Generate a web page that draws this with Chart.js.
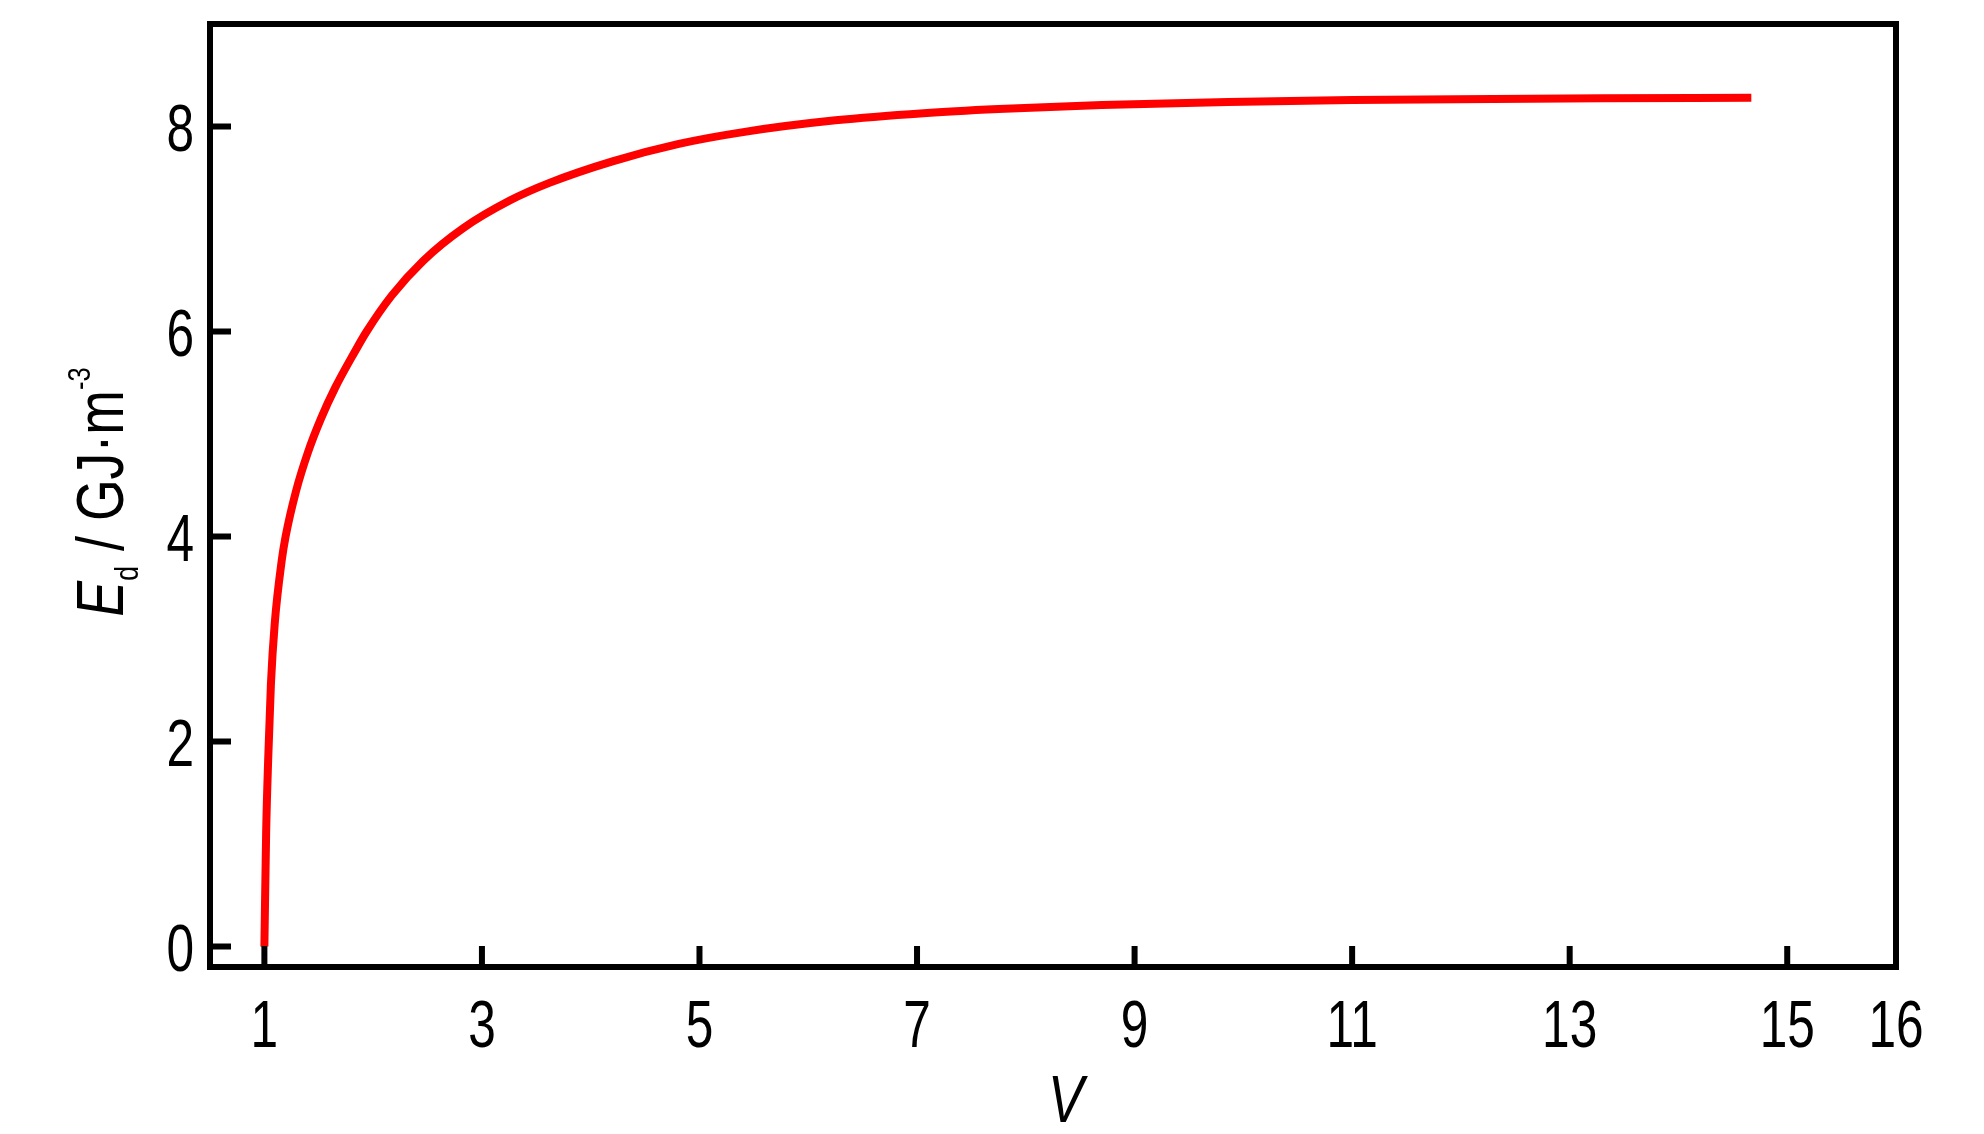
<!DOCTYPE html>
<html>
<head>
<meta charset="utf-8">
<script src="https://cdn.jsdelivr.net/npm/chart.js@4.4.1/dist/chart.umd.min.js"></script>
<style>
  html, body { margin: 0; padding: 0; background: #ffffff; }
  #wrap { width: 1984px; height: 1134px; }
</style>
</head>
<body>
<div id="wrap"><canvas id="c" width="1984" height="1134"></canvas></div>
<script>
// ---- data ----
const volumeRatio = [1.0, 1.016, 1.036, 1.06, 1.095, 1.16, 1.195, 1.29, 1.40, 1.52, 1.65, 1.83, 1.94, 2.17, 2.46, 2.83, 3.26, 3.62, 4.2, 4.81, 5.43, 6.25, 7.06, 7.75, 8.7, 9.86, 11.0, 11.96, 13.3, 14.67];
const energyDensity = [0.0, 1.1, 1.86, 2.56, 3.15, 3.77, 4.0, 4.44, 4.82, 5.15, 5.45, 5.80, 6.0, 6.35, 6.69, 7.01, 7.28, 7.45, 7.66, 7.83, 7.95, 8.06, 8.13, 8.17, 8.21, 8.24, 8.258, 8.267, 8.275, 8.28];
const xTickValues = [1, 3, 5, 7, 9, 11, 13, 15, 16];
const xTickMarks = [1, 3, 5, 7, 9, 11, 13, 15];
const yTickValues = [0, 2, 4, 6, 8];
const xTitle = 'V';
const yTitleParts = [
  { text: 'E', style: 'italic', size: 67, dy: 0 },
  { text: 'd', style: 'normal', size: 34, dy: 15 },
  { text: ' / GJ\u00B7m', style: 'normal', size: 67, dy: 0 },
  { text: '-3', style: 'normal', size: 32, dy: -33 }
];

const FONT = '"Liberation Sans", Arial, Helvetica, sans-serif';
const NARROW = 0.74;      // horizontal squeeze to mimic a narrow face
const TITLE_NARROW = 0.8;

const points = volumeRatio.map((v, i) => ({ x: v, y: energyDensity[i] }));

function narrowText(ctx, text, x, y, align, sx) {
  ctx.save();
  ctx.translate(x, y);
  ctx.scale(sx, 1);
  ctx.textAlign = align;
  ctx.fillText(text, 0, 0);
  ctx.restore();
}

const framePlugin = {
  id: 'frameTicks',
  afterDraw(chart) {
    const { ctx, chartArea: a, scales } = chart;
    const xs = scales.x, ys = scales.y;
    ctx.save();
    ctx.strokeStyle = '#000';
    ctx.lineWidth = 6;
    ctx.lineCap = 'butt';
    // inward ticks
    const tl = 21;
    ctx.beginPath();
    xTickMarks.forEach(v => {
      const px = xs.getPixelForValue(v);
      ctx.moveTo(px, a.bottom);
      ctx.lineTo(px, a.bottom - tl);
    });
    yTickValues.forEach(v => {
      const py = ys.getPixelForValue(v);
      ctx.moveTo(a.left, py);
      ctx.lineTo(a.left + tl, py);
    });
    ctx.stroke();
    // frame
    ctx.strokeRect(a.left, a.top, a.right - a.left, a.bottom - a.top);

    // tick labels
    ctx.fillStyle = '#000';
    ctx.textBaseline = 'alphabetic';
    ctx.font = '67px ' + FONT;
    xTickValues.forEach(v => {
      narrowText(ctx, String(v), xs.getPixelForValue(v), a.bottom + 80, 'center', NARROW);
    });
    yTickValues.forEach(v => {
      narrowText(ctx, String(v), a.left - 16, ys.getPixelForValue(v) + 24, 'right', NARROW);
    });

    // x title
    ctx.font = 'italic 67px ' + FONT;
    narrowText(ctx, xTitle, 1066, 1122, 'center', TITLE_NARROW);

    // y title, rotated
    ctx.save();
    ctx.translate(123, 492);
    ctx.rotate(-Math.PI / 2);
    ctx.scale(TITLE_NARROW, 1);
    ctx.textAlign = 'left';
    let total = 0;
    yTitleParts.forEach(p => {
      ctx.font = p.style + ' ' + p.size + 'px ' + FONT;
      p.w = ctx.measureText(p.text).width;
      total += p.w;
    });
    let cx = -total / 2;
    yTitleParts.forEach(p => {
      ctx.font = p.style + ' ' + p.size + 'px ' + FONT;
      ctx.fillText(p.text, cx, p.dy);
      cx += p.w;
    });
    ctx.restore();
    ctx.restore();
  }
};

new Chart(document.getElementById('c'), {
  type: 'line',
  data: {
    datasets: [{
      data: points,
      borderColor: '#ff0000',
      borderWidth: 8,
      pointRadius: 0,
      fill: false,
      cubicInterpolationMode: 'monotone',
      borderCapStyle: 'butt'
    }]
  },
  options: {
    responsive: false,
    animation: false,
    devicePixelRatio: 1,
    layout: { padding: { top: 24, right: 88, bottom: 0, left: 0 } },
    plugins: { legend: { display: false }, tooltip: { enabled: false } },
    scales: {
      x: {
        type: 'linear',
        min: 0.5,
        max: 16,
        grid: { display: false, drawTicks: false },
        border: { display: false },
        afterBuildTicks(scale) { scale.ticks = xTickValues.map(v => ({ value: v })); },
        afterFit(scale) {
          scale.height = 1134 - 967;
          scale.paddingLeft = 0; scale.paddingRight = 0;
        },
        ticks: { display: false }
      },
      y: {
        type: 'linear',
        min: -0.2,
        max: 9,
        grid: { display: false, drawTicks: false },
        border: { display: false },
        afterBuildTicks(scale) { scale.ticks = yTickValues.map(v => ({ value: v })); },
        afterFit(scale) {
          scale.width = 210;
          scale.paddingTop = 0; scale.paddingBottom = 0;
        },
        ticks: { display: false }
      }
    }
  },
  plugins: [framePlugin]
});
</script>
</body>
</html>
